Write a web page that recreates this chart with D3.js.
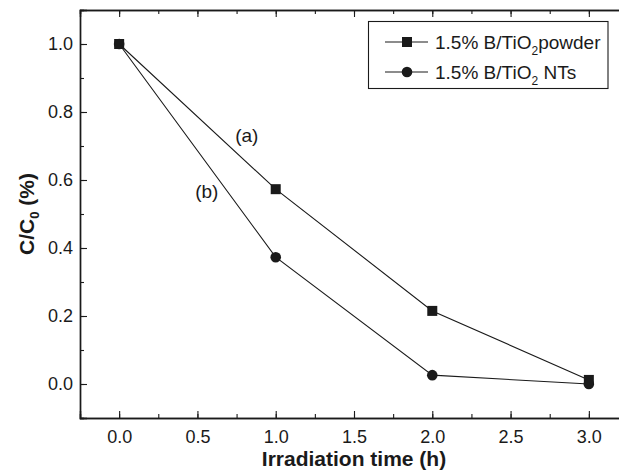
<!DOCTYPE html>
<html>
<head>
<meta charset="utf-8">
<script src="https://cdn.jsdelivr.net/npm/d3@7"></script>
<style>
  html, body { margin: 0; padding: 0; background: #fff; }
  svg { display: block; font-family: "Liberation Sans", Arial, sans-serif; }
</style>
</head>
<body>
<svg id="chart" width="619" height="473"></svg>
<script>
// Irradiation time (h)
const times = [0, 1, 2, 3];
// C/C0 for each catalyst
const powderValues = [1.0, 0.573, 0.215, 0.012];
const ntsValues = [1.0, 0.373, 0.026, 0.0];
const seriesNames = ["1.5% B/TiO", "1.5% B/TiO"];
const seriesSuffix = ["powder", " NTs"];
const xTicks = [0, 0.5, 1, 1.5, 2, 2.5, 3];
const yTicks = [0, 0.2, 0.4, 0.6, 0.8, 1.0];
const curveLabels = [
  { text: "(a)", x: 0.815, y: 0.732 },
  { text: "(b)", x: 0.56, y: 0.566 }
];

const svg = d3.select("#chart");
const x = d3.scaleLinear().domain([-0.25, 3.25]).range([80, 628]);
const y = d3.scaleLinear().domain([-0.1, 1.1]).range([418, 10]);
const ink = "#1a1a1a";

// frame axes, ticks pointing inward
const fmt = d3.format(".1f");
const minorX = d3.range(-0.25, 3.26, 0.25);
const minorY = d3.range(-0.1, 1.11, 0.1);

function styleAxis(g) {
  g.select(".domain").attr("stroke", ink).attr("stroke-width", 1.4);
  g.selectAll(".tick line").attr("stroke", ink).attr("stroke-width", 1.1);
  g.selectAll(".tick text").attr("fill", ink).style("font-size", "18px");
}

// minor ticks
svg.append("g").attr("transform", `translate(0,${y(-0.1)})`)
  .call(d3.axisBottom(x).tickValues(minorX).tickSize(-4).tickFormat(""))
  .call(styleAxis);
svg.append("g").attr("transform", `translate(0,${y(1.1)})`)
  .call(d3.axisTop(x).tickValues(minorX).tickSize(-4).tickFormat(""))
  .call(styleAxis);
svg.append("g").attr("transform", `translate(${x(-0.25)},0)`)
  .call(d3.axisLeft(y).tickValues(minorY).tickSize(-4).tickFormat(""))
  .call(styleAxis);

// major ticks with labels
svg.append("g").attr("transform", `translate(0,${y(-0.1)})`)
  .call(d3.axisBottom(x).tickValues(xTicks).tickSize(-7).tickPadding(12).tickFormat(fmt))
  .call(styleAxis);
svg.append("g").attr("transform", `translate(0,${y(1.1)})`)
  .call(d3.axisTop(x).tickValues(xTicks).tickSize(-7).tickFormat(""))
  .call(styleAxis);
svg.append("g").attr("transform", `translate(${x(-0.25)},0)`)
  .call(d3.axisLeft(y).tickValues(yTicks).tickSize(-7).tickPadding(7).tickFormat(fmt))
  .call(styleAxis);

// axis titles, centred on the frame
svg.append("text")
  .attr("x", (x.range()[0] + x.range()[1]) / 2).attr("y", 466)
  .attr("text-anchor", "middle")
  .style("font-size", "21px").style("font-weight", "bold").attr("fill", ink)
  .text("Irradiation time (h)");

const yt = svg.append("text")
  .attr("transform", `translate(34,${(y.range()[0] + y.range()[1]) / 2}) rotate(-90)`)
  .attr("text-anchor", "middle")
  .style("font-size", "21px").style("font-weight", "bold").attr("fill", ink);
yt.append("tspan").text("C/C");
yt.append("tspan").attr("dy", 5).style("font-size", "13px").text("0");
yt.append("tspan").attr("dy", -5).text(" (%)");

// series
const line = d3.line().x(d => x(d[0])).y(d => y(d[1]));
const powder = times.map((t, i) => [t, powderValues[i]]);
const nts = times.map((t, i) => [t, ntsValues[i]]);

[powder, nts].forEach(data => {
  svg.append("path").datum(data)
    .attr("d", line).attr("fill", "none")
    .attr("stroke", ink).attr("stroke-width", 1.1);
});

svg.append("g").selectAll("rect").data(powder).join("rect")
  .attr("x", d => x(d[0]) - 5).attr("y", d => y(d[1]) - 5)
  .attr("width", 10).attr("height", 10).attr("fill", ink);

svg.append("g").selectAll("circle").data(nts).join("circle")
  .attr("cx", d => x(d[0])).attr("cy", d => y(d[1]))
  .attr("r", 5.3).attr("fill", ink);

// curve labels
svg.append("g").selectAll("text").data(curveLabels).join("text")
  .attr("x", d => x(d.x)).attr("y", d => y(d.y))
  .attr("dy", "0.35em").attr("text-anchor", "middle")
  .style("font-size", "19px").attr("fill", ink)
  .text(d => d.text);

// legend
const legend = svg.append("g");
legend.append("rect")
  .attr("x", 368.5).attr("y", 21.5).attr("width", 239.5).attr("height", 67)
  .attr("fill", "#fff").attr("stroke", ink).attr("stroke-width", 1.1);

const rows = [42, 72];
rows.forEach((ry, i) => {
  legend.append("line")
    .attr("x1", 385).attr("x2", 428).attr("y1", ry).attr("y2", ry)
    .attr("stroke", ink).attr("stroke-width", 1.1);
  if (i === 0) {
    legend.append("rect").attr("x", 402).attr("y", ry - 5)
      .attr("width", 10).attr("height", 10).attr("fill", ink);
  } else {
    legend.append("circle").attr("cx", 407).attr("cy", ry)
      .attr("r", 5.3).attr("fill", ink);
  }
  const t = legend.append("text")
    .attr("x", 435).attr("y", ry).attr("dy", "0.35em")
    .style("font-size", "19px").attr("fill", ink);
  t.append("tspan").text(seriesNames[i]);
  t.append("tspan").attr("dy", 6).style("font-size", "12px").text("2");
  t.append("tspan").attr("dy", -6).text(seriesSuffix[i]);
});
</script>
</body>
</html>
